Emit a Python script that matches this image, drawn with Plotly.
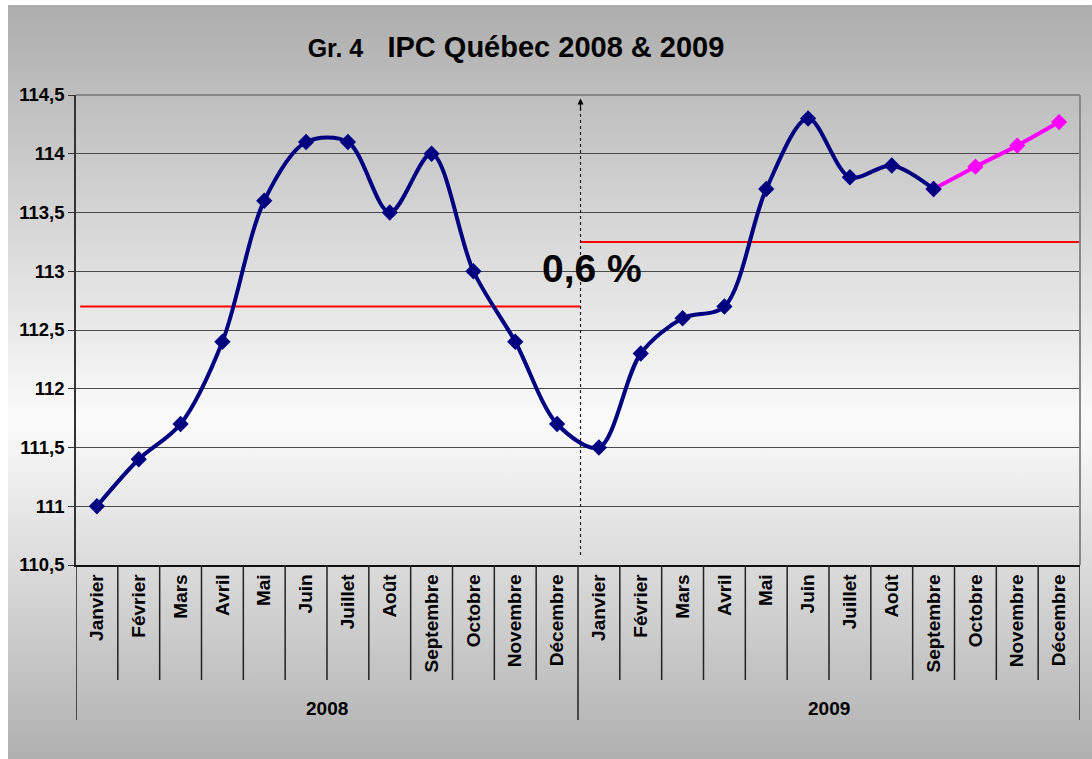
import base64
import plotly.graph_objects as go

# ---------------- data ----------------
months = ["Janvier", "Février", "Mars", "Avril", "Mai", "Juin", "Juillet",
          "Août", "Septembre", "Octobre", "Novembre", "Décembre"]
years = ["2008", "2009"]
cpi_2008 = [111.0, 111.4, 111.7, 112.4, 113.6, 114.1, 114.1, 113.5, 114.0, 113.0, 112.4, 111.7]
cpi_2009 = [111.5, 112.3, 112.6, 112.7, 113.7, 114.3, 113.8, 113.9, 113.7]          # Jan-Sep observed
forecast_2009 = [113.7, 113.89, 114.07, 114.27]                                     # Sep-Dec projected
avg_2008 = 112.70
avg_2009 = 113.25
change_label = "0,6 %"

# ---------------- derived positions ----------------
n = len(months)
x_obs = list(range(n + len(cpi_2009)))
y_obs = cpi_2008 + cpi_2009
x_fc = list(range(n + len(cpi_2009) - 1, n + len(cpi_2009) - 1 + len(forecast_2009)))
split_x = n - 0.44

FONT = "Liberation Sans, Arial, sans-serif"
NAVY = "#000080"

fig = go.Figure()

# average lines
fig.add_trace(go.Scatter(x=[-0.40, split_x], y=[avg_2008, avg_2008], mode="lines",
                         line=dict(color="#ff0000", width=2), hoverinfo="skip", showlegend=False))
fig.add_trace(go.Scatter(x=[split_x, 2 * n - 0.5], y=[avg_2009, avg_2009], mode="lines",
                         line=dict(color="#ff0000", width=2), hoverinfo="skip", showlegend=False))

# forecast (magenta)
fig.add_trace(go.Scatter(x=x_fc, y=forecast_2009, mode="lines+markers",
                         line=dict(color="#ff00ff", width=4, shape="spline", smoothing=0.9),
                         marker=dict(symbol="diamond", size=12.5, color="#ff00ff"),
                         showlegend=False))
# observed (navy)
fig.add_trace(go.Scatter(x=x_obs, y=y_obs, mode="lines+markers",
                         line=dict(color=NAVY, width=4, shape="spline", smoothing=0.9),
                         marker=dict(symbol="diamond", size=12.5, color=NAVY),
                         showlegend=False))

# ---------------- background gradient ----------------
svg = ("<svg xmlns='http://www.w3.org/2000/svg' width='100' height='100' viewBox='0 0 100 100' "
       "preserveAspectRatio='none'><defs><linearGradient id='g' x1='0' y1='0' x2='0' y2='1'>"
       "<stop offset='0' stop-color='#adadad'/><stop offset='0.55' stop-color='#fbfbfb'/>"
       "<stop offset='1' stop-color='#b0b0b0'/></linearGradient></defs>"
       "<rect width='100' height='100' fill='url(#g)'/></svg>")
src = "data:image/svg+xml;base64," + base64.b64encode(svg.encode()).decode()

W, H = 1092, 759
L, R, T, B = 76, 12, 95, 194
pw, ph = W - L - R, H - T - B


def px(xp):
    return (xp - L) / pw


def py(yp):
    return (H - B - yp) / ph


fig.add_layout_image(dict(source=src, xref="paper", yref="paper",
                          x=px(8), y=py(5), sizex=px(W) - px(8), sizey=py(5) - py(H),
                          xanchor="left", yanchor="top", sizing="stretch", layer="below"))

shapes = []
# category dividers below the axis
for i in range(1, 2 * n):
    long = (i == n)
    shapes.append(dict(type="line", xref="x", yref="paper", x0=i - 0.5, x1=i - 0.5,
                       y0=0, y1=py(720 if long else 680), line=dict(color="#222", width=1.5)))
for xv in (-0.5, 2 * n - 0.5):
    shapes.append(dict(type="line", xref="x", yref="paper", x0=xv, x1=xv,
                       y0=0, y1=py(720), line=dict(color="#222", width=1.5)))
# top and right border of plot area
shapes.append(dict(type="line", xref="paper", yref="paper", x0=0, x1=1, y0=1, y1=1,
                   line=dict(color="#888888", width=2)))
shapes.append(dict(type="line", xref="paper", yref="paper", x0=1, x1=1, y0=0, y1=1,
                   line=dict(color="#888888", width=2)))
# dotted divider
shapes.append(dict(type="line", xref="x", yref="y", x0=split_x, x1=split_x,
                   y0=110.585, y1=114.40, line=dict(color="#222", width=1.2, dash="dot")))

annotations = [
    dict(x=split_x, y=114.47, ax=split_x, ay=114.36, xref="x", yref="y", axref="x", ayref="y",
         text="", showarrow=True, arrowhead=2, arrowsize=1, arrowwidth=1.2, arrowcolor="#000"),
    dict(x=11.84, y=113.02, xref="x", yref="y", text=change_label, showarrow=False,
         font=dict(family=FONT, size=39, color="black", weight="bold")),
    dict(x=(n - 1) / 2, y=py(708), xref="x", yref="paper", text=years[0], showarrow=False,
         font=dict(family=FONT, size=19, color="black", weight="bold"), yanchor="middle"),
    dict(x=n + (n - 1) / 2, y=py(708), xref="x", yref="paper", text=years[1], showarrow=False,
         font=dict(family=FONT, size=19, color="black", weight="bold"), yanchor="middle"),
]

nb = "\u00a0"
fig.update_layout(
    width=W, height=H,
    margin=dict(l=L, r=R, t=T, b=B),
    paper_bgcolor="white",
    plot_bgcolor="rgba(0,0,0,0)",
    separators=", ",
    title=dict(text="<span style='font-size:25px'>Gr. 4</span>" + nb * 3 + "IPC Québec 2008 & 2009",
               x=516 / W, xanchor="center", xref="container", y=1 - 47 / H, yanchor="middle",
               font=dict(family=FONT, size=29, color="black", weight="bold")),
    xaxis=dict(range=[-0.5, 2 * n - 0.5], tickmode="array", tickvals=list(range(2 * n)),
               ticktext=months * 2, tickangle=-90, showgrid=False, zeroline=False,
               showline=True, linecolor="#111", linewidth=1.5, ticks="",
               tickfont=dict(family=FONT, size=19, color="black", weight="bold")),
    yaxis=dict(range=[110.5, 114.5], tick0=110.5, dtick=0.5, showgrid=True,
               gridcolor="#4a4a4a", gridwidth=1, zeroline=False, showline=True,
               linecolor="#333", linewidth=1.5, ticks="outside", ticklen=6, tickcolor="#333",
               tickfont=dict(family=FONT, size=18.5, color="black", weight="bold")),
    shapes=shapes,
    annotations=annotations,
    showlegend=False,
)

fig.write_html("out.html", config={"displayModeBar": False},
               post_script="document.body.style.margin='0px';")
